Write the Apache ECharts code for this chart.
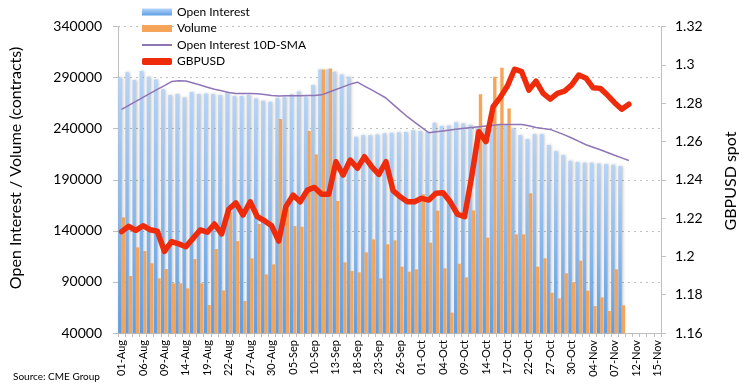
<!DOCTYPE html>
<html>
<head>
<meta charset="utf-8">
<script src="https://cdn.jsdelivr.net/npm/echarts@6/dist/echarts.min.js"></script>
<style>
html,body{margin:0;padding:0;background:#fff;}
#chart{width:753px;height:391px;}
</style>
</head>
<body>
<div id="chart"></div>
<script>
// Categories (trading days), labels shown every 3rd
const augDays = ['01','02','05','06','07','08','09','12','13','14','15','16','19','20','21','22','23','26','27','28','29','30'];
const sepDays = ['03','04','05','06','09','10','11','12','13','16','17','18','19','20','23','24','25','26','27','30'];
const octDays = ['01','02','03','04','07','08','09','10','11','14','15','16','17','18','21','22','23','24','27','28','29','30','31'];
const novDays = ['01','04','05','06','07','08','11','12','13','14','15'];
const categories = [].concat(
  augDays.map(d => d + '-Aug'),
  sepDays.map(d => d + '-Sep'),
  octDays.map(d => d + '-Oct'),
  novDays.map(d => d + '-Nov')
);

const openInterest = [
  290200, 295100, 287600, 296400, 290800, 288200, 278500, 272900, 273900, 270600,
  275800, 274000, 274500, 274000, 272900, 275100, 271900, 271900, 272900, 269600,
  267300, 266300, 270000, 271200, 273600, 276500, 271600, 282700, 298000, 298000,
  295700, 293100, 290800, 232100, 233700, 233700, 234400, 235400, 236000, 236400,
  236700, 238600, 237700, 237000, 245800, 242600, 243200, 246200, 245200, 243800,
  241300, 240300, 243500, 243500, 243500, 240300, 233700, 229800, 234700, 234700,
  224000, 218100, 214200, 208600, 207300, 206700, 206700, 206000, 205400, 204700,
  203400
];

const volume = [
  153200, 95800, 123800, 120200, 108200, 93500, 102600, 88600, 88600, 83700,
  112400, 88600, 67400, 122200, 81700, 158100, 130000, 71300, 113100, 146700,
  97400, 107200, 249400, 162000, 144700, 144000, 237700, 214800, 298000, 299000,
  169200, 109200, 100700, 99400, 118900, 131600, 93500, 126800, 130700, 104900,
  100000, 102300, 175700, 128400, 159700, 103300, 59900, 107800, 94500, 160000,
  273600, 133300, 290800, 299600, 259800, 136500, 136500, 176700, 104900, 113100,
  79400, 73900, 98400, 89600, 110800, 81400, 66400, 74900, 61500, 102300,
  67100
];

const oiSma10 = [
  258900, 262800, 266700, 270600, 274500, 278400, 282200, 286100, 286900, 286700,
  284700, 282700, 280600, 278500, 277100, 275500, 274500, 274500, 274500, 274200,
  273400, 272500, 271900, 272100, 272200, 272300, 272400, 272500, 273100, 275700,
  278300, 280900, 283600, 285500, 281700, 277900, 274000, 270000, 263800, 257600,
  251700, 246500, 241300, 236000, 236900, 237800, 238700, 239600, 240500, 241200,
  241900, 242600, 243300, 244000, 244200, 244100, 244000, 242800, 241100, 240100,
  239300, 236600, 233900, 230900, 227600, 224300, 221800, 219300, 216700, 214000,
  211400, 208800
];

const gbpusd = [
  1.2129, 1.2157, 1.2136, 1.2160, 1.2139, 1.2131, 1.2026, 1.2077, 1.2065, 1.2050,
  1.2094, 1.2138, 1.2126, 1.2169, 1.2117, 1.2246, 1.2279, 1.2216, 1.2285, 1.2207,
  1.2186, 1.2160, 1.2080, 1.2259, 1.2320, 1.2285, 1.2346, 1.2360, 1.2324, 1.2324,
  1.2494, 1.2425, 1.2503, 1.2460, 1.2520, 1.2468, 1.2428, 1.2494, 1.2343, 1.2311,
  1.2285, 1.2285, 1.2303, 1.2294, 1.2329, 1.2332, 1.2285, 1.2220, 1.2207, 1.2416,
  1.2651, 1.2599, 1.2781, 1.2830, 1.2889, 1.2977, 1.2964, 1.2868, 1.2915, 1.2851,
  1.2821, 1.2851, 1.2863, 1.2895, 1.2947, 1.2930, 1.2880, 1.2877, 1.2842, 1.2802,
  1.2768, 1.2794
];

const leftTicks = {min: 40000, max: 340000, interval: 50000};
const rightTicks = {min: 1.16, max: 1.32, interval: 0.02};

const FONT = 'Lato, "Open Sans", sans-serif';
const chart = echarts.init(document.getElementById('chart'), null, {renderer: 'canvas'});

chart.setOption({
  animation: false,
  backgroundColor: '#ffffff',
  textStyle: {fontFamily: FONT, color: '#000'},
  grid: {left: 118, right: 92, top: 26.5, bottom: 58, containLabel: false},
  legend: {
    orient: 'vertical',
    left: 142, top: 6, padding: 0,
    itemWidth: 30, itemHeight: 7, itemGap: 4.5,
    textStyle: {fontFamily: FONT, fontSize: 12, color: '#000', lineHeight: 12},
    data: [
      {name: 'Open Interest', icon: 'rect'},
      {name: 'Volume', icon: 'rect'},
      {name: 'Open Interest 10D-SMA', icon: 'path://M0,0h30v2h-30z'},
      {name: 'GBPUSD', icon: 'roundRect'}
    ]
  },
  xAxis: {
    type: 'category',
    data: categories,
    boundaryGap: true,
    axisLine: {show: true, lineStyle: {color: '#bfbfbf', width: 1}},
    axisTick: {show: true, interval: 0, length: 4, lineStyle: {color: '#bfbfbf'}},
    axisLabel: {interval: 2, rotate: 90, fontSize: 11, color: '#000', margin: 7, fontFamily: FONT},
    splitLine: {show: false}
  },
  yAxis: [
    {
      type: 'value',
      min: leftTicks.min, max: leftTicks.max, interval: leftTicks.interval,
      axisLine: {show: true, lineStyle: {color: '#bfbfbf'}},
      axisTick: {show: true, length: 5, lineStyle: {color: '#bfbfbf'}},
      axisLabel: {fontSize: 14, color: '#000', margin: 16, fontFamily: FONT, formatter: v => String(v)},
      splitLine: {show: true, lineStyle: {color: '#bfbfbf', type: [2, 4], width: 1}}
    },
    {
      type: 'value',
      min: rightTicks.min, max: rightTicks.max, interval: rightTicks.interval,
      position: 'right',
      axisLine: {show: true, lineStyle: {color: '#bfbfbf'}},
      axisTick: {show: true, length: 5, lineStyle: {color: '#bfbfbf'}},
      axisLabel: {fontSize: 14, color: '#000', margin: 14, fontFamily: FONT, formatter: v => String(+(+v).toFixed(2))},
      splitLine: {show: false}
    }
  ],
  series: [
    {
      name: 'Open Interest',
      type: 'bar',
      data: openInterest,
      barWidth: 3.4,
      barGap: '0%',
      itemStyle: {
        color: new echarts.graphic.LinearGradient(0, 0, 0, 1, [
          {offset: 0, color: '#b6d4f7'},
          {offset: 1, color: '#5e9ee4'}
        ]),
        shadowColor: 'rgba(0,0,0,0.28)', shadowBlur: 3, shadowOffsetX: 1
      }
    },
    {
      name: 'Volume',
      type: 'bar',
      data: volume,
      barWidth: 3.4,
      barGap: '0%',
      itemStyle: {color: '#f5a55a'}
    },
    {
      name: 'Open Interest 10D-SMA',
      type: 'line',
      data: oiSma10,
      symbol: 'none',
      lineStyle: {color: '#8f74b6', width: 1.5},
      itemStyle: {color: '#8f74b6'},
      z: 3
    },
    {
      name: 'GBPUSD',
      type: 'line',
      yAxisIndex: 1,
      data: gbpusd,
      symbol: 'none',
      lineStyle: {color: '#ee2b0b', width: 5.5, cap: 'round', join: 'round'},
      itemStyle: {color: '#ee2b0b'},
      z: 4
    }
  ],
  graphic: [
    {
      type: 'text', x: 16, y: 168, rotation: Math.PI / 2,
      style: {text: 'Open Interest / Volume (contracts)', font: '16px ' + FONT, fill: '#000', align: 'center', verticalAlign: 'middle'}
    },
    {
      type: 'text', x: 731, y: 181, rotation: Math.PI / 2,
      style: {text: 'GBPUSD spot', font: '16px ' + FONT, fill: '#000', align: 'center', verticalAlign: 'middle'}
    },
    {
      type: 'text', x: 13, y: 377,
      style: {text: 'Source: CME Group', font: '10px ' + FONT, fill: '#000', align: 'left', verticalAlign: 'middle'}
    }
  ]
});
</script>
</body>
</html>
